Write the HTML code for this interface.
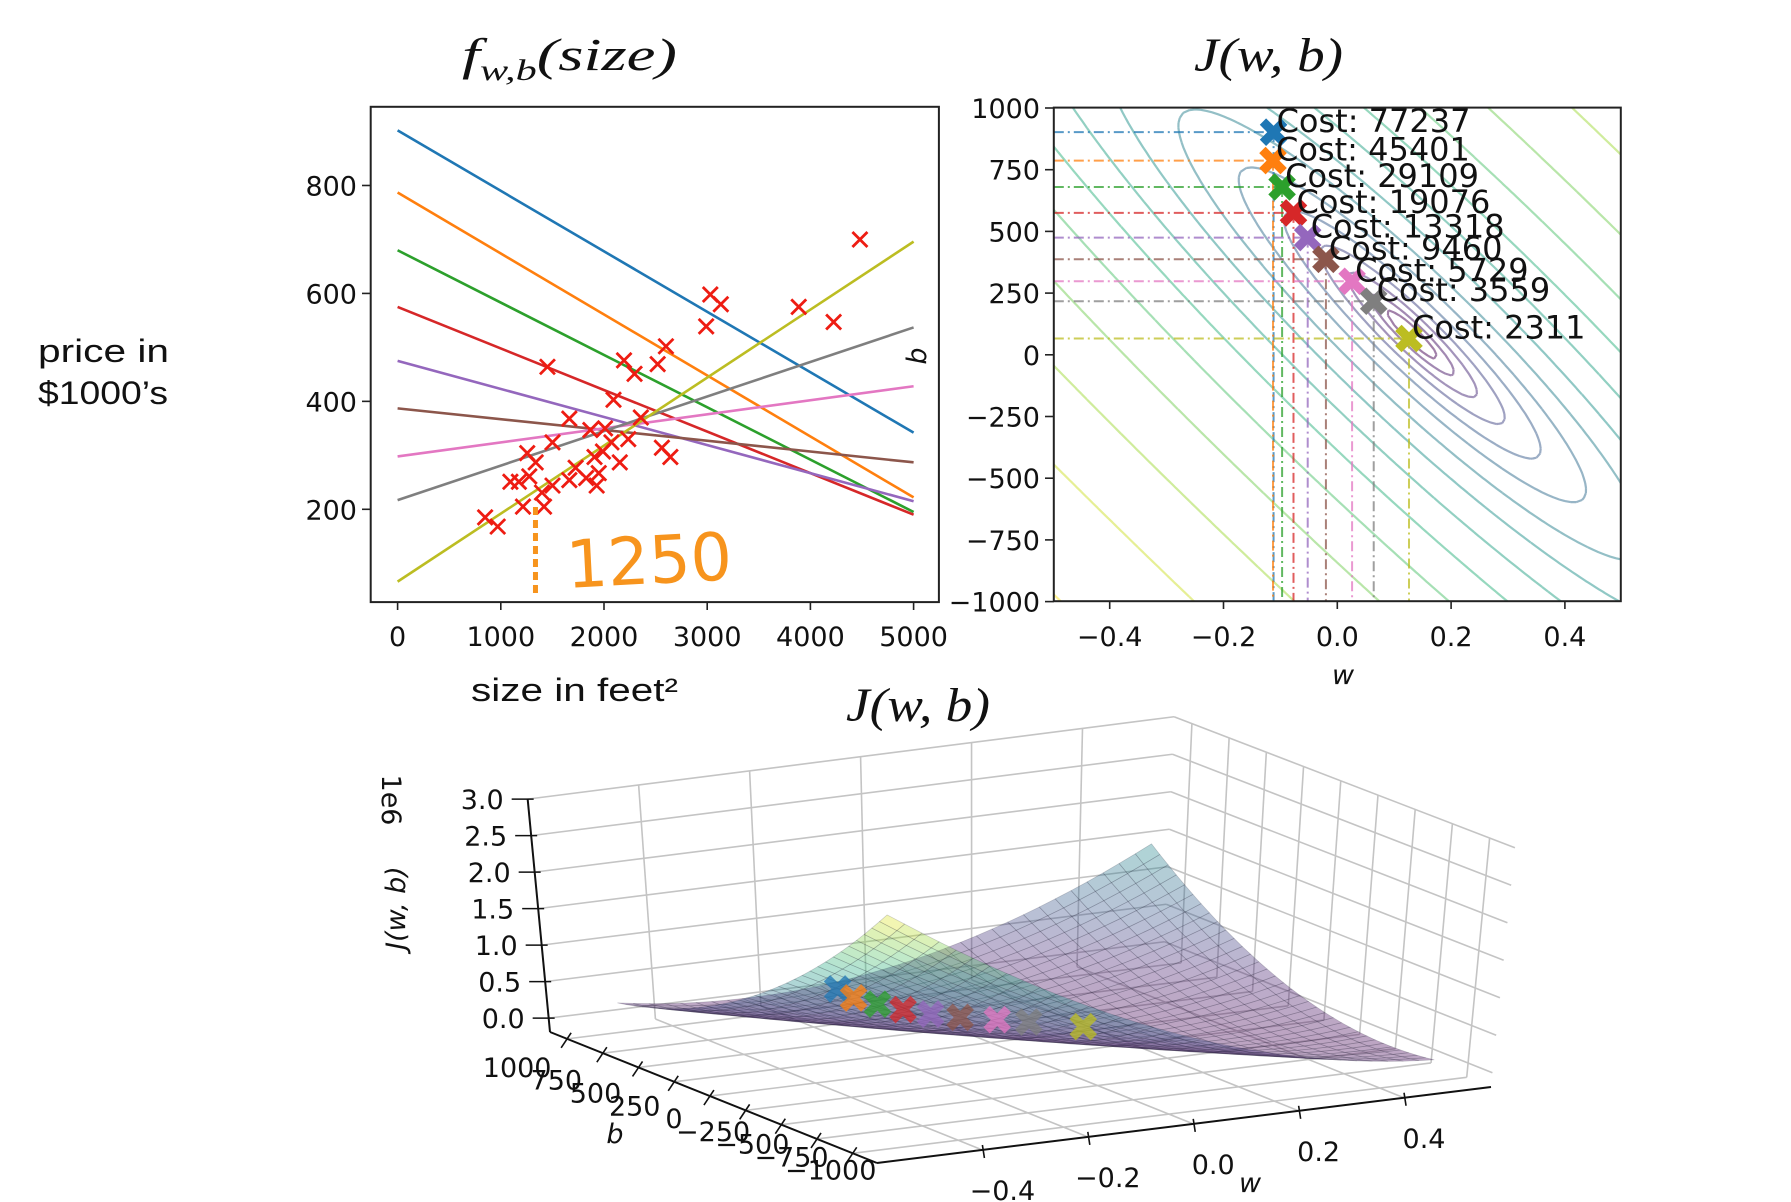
<!DOCTYPE html>
<html><head><meta charset="utf-8"><title>Gradient descent visualisation</title>
<style>
html,body{margin:0;padding:0;background:#fff;}
svg{display:block;}
.tick{font-family:"DejaVu Sans","Liberation Sans",sans-serif;font-size:27px;fill:#111;}
.ttl{font-family:"Liberation Serif",serif;font-style:italic;fill:#111;}
.lbl{font-family:"Liberation Sans",sans-serif;fill:#111;}
</style></head>
<body>
<svg id="fig" xmlns="http://www.w3.org/2000/svg" width="1791" height="1202" viewBox="0 0 1791 1202">
<defs>
<clipPath id="clipL"><rect x="370.7" y="106.8" width="568.2" height="495.3"/></clipPath>
<clipPath id="clipR"><rect x="1053.8" y="107.6" width="567" height="493.6"/></clipPath>
</defs>
<rect x="0" y="0" width="1791" height="1202" fill="#fff"/>
<text class="ttl" x="462" y="70" font-size="46" textLength="215" lengthAdjust="spacingAndGlyphs">f<tspan font-size="30" dy="10">w,b</tspan><tspan dy="-10">(size)</tspan></text>
<text class="ttl" x="1194" y="71" font-size="48" textLength="149" lengthAdjust="spacingAndGlyphs">J(w, b)</text>
<text class="ttl" x="846" y="721" font-size="48" textLength="144" lengthAdjust="spacingAndGlyphs">J(w, b)</text>
<text class="lbl" x="38" y="362" font-size="32" textLength="131" lengthAdjust="spacingAndGlyphs">price in</text>
<text class="lbl" x="38" y="404" font-size="32" textLength="130" lengthAdjust="spacingAndGlyphs">$1000’s</text>
<text class="lbl" x="471" y="701" font-size="32" textLength="207" lengthAdjust="spacingAndGlyphs">size in feet²</text>
<g id="left"></g>
<g id="right"></g>
<g id="three"></g>
</svg>
<script>
// ---------- data ----------
const sqft  = [4480,3030,3132,2990,3887,4225,1452,2194,2296,2520,2600,2092,1664,1501,1256,1175,1276,1215,1419,1501,970,848,2153,2235,1908,1949,1929,1827,1725,1990,1868,2010,2357,2561,2643,2072,1664,1338,1399,1093];
const price = [700,598,580,539,575,547,464,476,451,469,502,403,368,324,304,251,261,205,205,244,168,185,287,330,297,267,244,258,277,307,347,350,370,314,297,324,254,287,231,251];
const wPath = [-0.112,-0.113,-0.097,-0.077,-0.052,-0.020,0.026,0.064,0.126];
const bPath = [902,787,680,575,475,387,298,217,66];
const costs = [77237,45401,29109,19076,13318,9460,5729,3559,2311];
const pathColors = ['#1f77b4','#ff7f0e','#2ca02c','#d62728','#9467bd','#8c564b','#e377c2','#7f7f7f','#bcbd22'];
const contourDeltas = [700,1900,4500,9100,17500,32000,58000,100000,170000,280000,450000,720000,1150000,1800000,2900000];
const sizeTicks = [0,1000,2000,3000,4000,5000];
const priceTicks = [200,400,600,800];
const wTicks = [-0.4,-0.2,0.0,0.2,0.4];
const wTickLabels = ['\u22120.4','\u22120.2','0.0','0.2','0.4'];
const bTicks = [-1000,-750,-500,-250,0,250,500,750,1000];
const zTicks = [0,0.5e6,1e6,1.5e6,2e6,2.5e6,3e6];
const zTickLabels = ['0.0','0.5','1.0','1.5','2.0','2.5','3.0'];

const NS='http://www.w3.org/2000/svg';
function mk(tag, attrs, parent){const e=document.createElementNS(NS,tag);for(const k in attrs)e.setAttribute(k,attrs[k]);parent.appendChild(e);return e;}
function fmt(v){return (v<0?'\u2212':'')+Math.abs(v);}
function cost(w,b){let s=0;for(let i=0;i<sqft.length;i++){const d=w*sqft[i]+b-price[i];s+=d*d;}return s/(2*sqft.length);}
const VIR=[[0,[68,1,84]],[0.13,[72,36,117]],[0.25,[59,82,139]],[0.38,[44,114,142]],[0.5,[33,145,140]],[0.63,[40,174,128]],[0.75,[94,201,98]],[0.88,[173,220,48]],[1,[253,231,37]]];
function viridis(t){t=Math.max(0,Math.min(1,t));for(let i=1;i<VIR.length;i++){if(t<=VIR[i][0]){const a=VIR[i-1],b=VIR[i];const f=(t-a[0])/(b[0]-a[0]);const c=a[1].map((v,j)=>Math.round(v+(b[1][j]-v)*f));return 'rgb('+c.join(',')+')';}}return 'rgb(253,231,37)';}
function xMarker(cx,cy,r){const p=[[0.3,1],[0.3,0.3],[1,0.3],[1,-0.3],[0.3,-0.3],[0.3,-1],[-0.3,-1],[-0.3,-0.3],[-1,-0.3],[-1,0.3],[-0.3,0.3],[-0.3,1]];const c=Math.SQRT1_2;return p.map(([x,y])=>(cx+r*(x*c-y*c)).toFixed(1)+','+(cy+r*(x*c+y*c)).toFixed(1)).join(' ');}

// ---------- left plot ----------
const L=document.getElementById('left');
const X=v=>397.6+v*0.10320;
const Y=p=>509.3-(p-200)*0.5397;
const lbox=mk('rect',{x:370.7,y:106.8,width:568.2,height:495.3,fill:'#fff',stroke:'#222','stroke-width':2},L);


const lc=mk('g',{'clip-path':'url(#clipL)'},L);
for(let i=0;i<wPath.length;i++){
  const ln=mk('line',{x1:X(0),y1:Y(bPath[i]),x2:X(5000),y2:Y(wPath[i]*5000+bPath[i]),stroke:pathColors[i],'stroke-width':2.6},lc);
  
  
}
for(let i=0;i<sqft.length;i++){
  const cx=X(sqft[i]),cy=Y(price[i]),r=7.5;
  const m=mk('path',{d:`M${cx-r},${cy-r}L${cx+r},${cy+r}M${cx-r},${cy+r}L${cx+r},${cy-r}`,stroke:'#ee1c12','stroke-width':2.8,fill:'none'},lc);
  
  
}
const dl=mk('line',{x1:X(1336),y1:507,x2:X(1336),y2:596,stroke:'#f7941d','stroke-width':5,'stroke-dasharray':'8,5'},L);


const an=mk('text',{x:566,y:584,'font-size':66,fill:'#f7941d','font-family':'"DejaVu Sans",sans-serif','font-weight':'normal',textLength:166,lengthAdjust:'spacingAndGlyphs',transform:'rotate(-3 640 560)'},L);
an.textContent='1250';


for(let i=0;i<sizeTicks.length;i++){
  const x=X(sizeTicks[i]);
  mk('line',{x1:x,y1:602,x2:x,y2:610,stroke:'#222','stroke-width':1.6},L);
  const t=mk('text',{x:x,y:646,'text-anchor':'middle',class:'tick'},L);
  t.textContent=sizeTicks[i];
  
  
}
for(let i=0;i<priceTicks.length;i++){
  const y=Y(priceTicks[i]);
  mk('line',{x1:362,y1:y,x2:370.7,y2:y,stroke:'#222','stroke-width':1.6},L);
  const t=mk('text',{x:357,y:y+10,'text-anchor':'end',class:'tick'},L);
  t.textContent=priceTicks[i];
  
  
}

// ---------- contour plot ----------
const R=document.getElementById('right');
const W=w=>1337.3+w*569;
const B=b=>354.8-b*0.2468;
mk('rect',{x:1053.8,y:107.6,width:567,height:493.6,fill:'#fff'},R);
const rc=mk('g',{'clip-path':'url(#clipR)'},R);
let mx=0,my=0;for(let i=0;i<sqft.length;i++){mx+=sqft[i];my+=price[i];}mx/=sqft.length;my/=sqft.length;
let sxy=0,sxx=0;for(let i=0;i<sqft.length;i++){sxy+=(sqft[i]-mx)*(price[i]-my);sxx+=(sqft[i]-mx)*(sqft[i]-mx);}
const wStar=sxy/sxx,bStar=my-wStar*mx,Jmin=cost(wStar,bStar);
const N=110,w0=-0.55,w1=0.55,b0=-1100,b1=1100;
const grid=[];for(let i=0;i<=N;i++){grid.push([]);for(let j=0;j<=N;j++){grid[i].push(cost(w0+(w1-w0)*i/N,b0+(b1-b0)*j/N));}}
const gw=i=>w0+(w1-w0)*i/N, gb=j=>b0+(b1-b0)*j/N;
for(let k=0;k<contourDeltas.length;k++){
  const lev=Jmin+contourDeltas[k];let d='';
  for(let i=0;i<N;i++)for(let j=0;j<N;j++){
    const c=[[i,j],[i+1,j],[i+1,j+1],[i,j+1]];const v=c.map(p=>grid[p[0]][p[1]]);const pts=[];
    for(let e=0;e<4;e++){const a=v[e],bb=v[(e+1)%4];if((a<lev)!==(bb<lev)){const f=(lev-a)/(bb-a);const p=c[e],q=c[(e+1)%4];pts.push([W(gw(p[0]+(q[0]-p[0])*f)),B(gb(p[1]+(q[1]-p[1])*f))]);}}
    for(let s=0;s+1<pts.length;s+=2)d+=`M${pts[s][0].toFixed(1)},${pts[s][1].toFixed(1)}L${pts[s+1][0].toFixed(1)},${pts[s+1][1].toFixed(1)}`;
  }
  const cp=mk('path',{d:d,stroke:viridis(k/(contourDeltas.length-1)),'stroke-width':2.2,'stroke-opacity':0.5,fill:'none'},rc);
  
  
}
for(let i=0;i<wPath.length;i++){
  const x=W(wPath[i]),y=B(bPath[i]);
  const h=mk('line',{x1:1053.8,y1:y,x2:x,y2:y,stroke:pathColors[i],'stroke-width':2,'stroke-dasharray':'10,4,2,4','stroke-opacity':0.75},rc);
  
  
  const v=mk('line',{x1:x,y1:y,x2:x,y2:601.2,stroke:pathColors[i],'stroke-width':2,'stroke-dasharray':'10,4,2,4','stroke-opacity':0.75},rc);
  
  
}
for(let i=0;i<wPath.length;i++){
  const x=W(wPath[i]),y=B(bPath[i]);
  const m=mk('polygon',{points:xMarker(x,y,15),fill:pathColors[i]},R);
  
  
}
for(let i=0;i<wPath.length;i++){
  const t=mk('text',{x:W(wPath[i])+3,y:B(bPath[i]),'font-family':'"DejaVu Sans",sans-serif','font-size':32,fill:'#111'},R);
  t.textContent='Cost: '+costs[i];
  
  
}
const rbox=mk('rect',{x:1053.8,y:107.6,width:567,height:493.6,fill:'none',stroke:'#222','stroke-width':2},R);


for(let i=0;i<wTicks.length;i++){
  const x=W(wTicks[i]);
  mk('line',{x1:x,y1:601.2,x2:x,y2:609,stroke:'#222','stroke-width':1.6},R);
  const t=mk('text',{x:x,y:646,'text-anchor':'middle',class:'tick'},R);
  t.textContent=wTickLabels[i];
  
  
}
for(let i=0;i<bTicks.length;i++){
  const y=B(bTicks[i]);
  mk('line',{x1:1045,y1:y,x2:1053.8,y2:y,stroke:'#222','stroke-width':1.6},R);
  const t=mk('text',{x:1040,y:y+10,'text-anchor':'end',class:'tick'},R);
  t.textContent=fmt(bTicks[i]);
  
  
}
const wl=mk('text',{x:1343,y:684,'text-anchor':'middle',class:'tick','font-style':'italic'},R);
wl.textContent='w';


const bl=mk('text',{x:0,y:0,'text-anchor':'middle',class:'tick','font-style':'italic',transform:'translate(926,356) rotate(-90)'},R);
bl.textContent='b';



// ---------- 3D surface ----------
const T=document.getElementById('three');
const F0=[877,1163],RR=[1491,1087],LL=[550,1032];
const wmin=-0.6,wmax=0.565,bmin=-1170,bmax=1120,zmin=-0.19e6,zmax=3.0e6;
function P(w,b,z){const u=(w-wmin)/(wmax-wmin),v=(b-bmin)/(bmax-bmin),s=(z-zmin)/1e6;
  const upx=-7+14.5*u*(1-0.3*v), upy=-73-2*u;
  return [F0[0]+u*(RR[0]-F0[0])+v*(LL[0]-F0[0])+s*upx, F0[1]+u*(RR[1]-F0[1])+v*(LL[1]-F0[1])+s*upy];}
function seg(a,b,attrs){return mk('line',Object.assign({x1:a[0],y1:a[1],x2:b[0],y2:b[1]},attrs),T);}
const gridA={stroke:'#c4c4c4','stroke-width':1.6};
for(const w of wTicks){const g1=seg(P(w,bmin,zmin),P(w,bmax,zmin),gridA);
  const g2=seg(P(w,bmax,zmin),P(w,bmax,zmax),gridA);}
for(const b of bTicks){const g1=seg(P(wmin,b,zmin),P(wmax,b,zmin),gridA);
  const g2=seg(P(wmax,b,zmin),P(wmax,b,zmax),gridA);}
for(const z of zTicks){const g1=seg(P(wmin,bmax,z),P(wmax,bmax,z),gridA);
  const g2=seg(P(wmax,bmax,z),P(wmax,bmin,z),gridA);}
const M=34,quads=[];let jmax=0;
const sg=[];for(let i=0;i<=M;i++){sg.push([]);for(let j=0;j<=M;j++){const w=-0.5+i/M,b=-1000+2000*j/M;const z=cost(w,b);sg[i].push(z);if(z>jmax)jmax=z;}}
for(let i=0;i<M;i++)for(let j=0;j<M;j++){quads.push({i,j,d:i+j});}
quads.sort((a,b)=>b.d-a.d);
const sgp=mk('g',{},T);


for(const q of quads){const {i,j}=q;const c=[[i,j],[i+1,j],[i+1,j+1],[i,j+1]];
  const pts=c.map(([a,b])=>P(-0.5+a/M,-1000+2000*b/M,sg[a][b]));
  const zav=(sg[i][j]+sg[i+1][j]+sg[i+1][j+1]+sg[i][j+1])/4;
  mk('polygon',{points:pts.map(p=>p[0].toFixed(1)+','+p[1].toFixed(1)).join(' '),fill:viridis(zav/jmax),'fill-opacity':0.36,stroke:'rgba(40,40,60,0.22)','stroke-width':0.7},sgp);}
for(let i=0;i<wPath.length;i++){const p=P(wPath[i],bPath[i],costs[i]);
  const m=mk('polygon',{points:xMarker(p[0],p[1]-4,15),fill:pathColors[i],'fill-opacity':0.75},T);
  
  }
const ax={stroke:'#111','stroke-width':2};
const za=seg(P(wmin,bmax,zmin),P(wmin,bmax,zmax),ax);
const ba=seg(P(wmin,bmax,zmin),P(wmin,bmin,zmin),ax);
const waa=seg(P(wmin,bmin,zmin),P(wmax,bmin,zmin),ax);
for(let k=0;k<zTicks.length;k++){const p=P(wmin,bmax,zTicks[k]);seg([p[0]-16,p[1]],[p[0]+6,p[1]],{stroke:'#111','stroke-width':1.6});
  const t=mk('text',{x:p[0]-24,y:p[1]+10,'text-anchor':'end',class:'tick','font-size':26},T);t.textContent=zTickLabels[k];
  }
for(let k=0;k<bTicks.length;k++){const p=P(wmin,bTicks[k],zmin);seg([p[0]-6,p[1]+9],[p[0]+4,p[1]-6],{stroke:'#111','stroke-width':1.6});
  const f=(1000-bTicks[k])/2000;
  const t=mk('text',{x:p[0]-50+28*f,y:p[1]+38-12*f,'text-anchor':'middle',class:'tick','font-size':26},T);t.textContent=fmt(bTicks[k]);
  }
for(let k=0;k<wTicks.length;k++){const p=P(wTicks[k],bmin,zmin);seg([p[0],p[1]-5],[p[0]+2,p[1]+8],{stroke:'#111','stroke-width':1.6});
  const t=mk('text',{x:p[0]+20,y:p[1]+50,'text-anchor':'middle',class:'tick','font-size':26},T);t.textContent=wTickLabels[k];
  }
const w3=mk('text',{x:1250,y:1192,'text-anchor':'middle',class:'tick','font-size':26,'font-style':'italic'},T);w3.textContent='w';

const b3=mk('text',{x:615,y:1143,'text-anchor':'middle',class:'tick','font-size':26,'font-style':'italic'},T);b3.textContent='b';

const e6=mk('text',{x:0,y:0,'text-anchor':'middle',class:'tick','font-size':24,transform:'translate(382,800) rotate(90)'},T);e6.textContent='1e6';

const zl=mk('text',{x:0,y:0,'text-anchor':'middle',class:'tick','font-size':24,'font-style':'italic',transform:'translate(405,908) rotate(-90)'},T);zl.textContent='J(w, b)';

</script>
</body></html>
